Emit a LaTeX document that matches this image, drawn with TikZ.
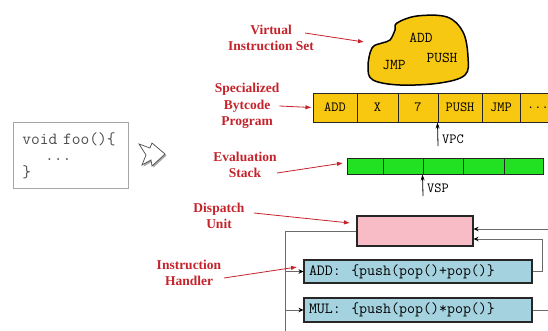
\documentclass[tikz,border=0pt]{standalone}
\usepackage{fontspec}
\setmainfont{Liberation Serif}
\usetikzlibrary{arrows.meta}
\definecolor{lblred}{HTML}{C4232B}
\definecolor{cloudyellow}{HTML}{F7C812}
\definecolor{byteyellow}{HTML}{F8C710}
\definecolor{stackgreen}{HTML}{22E022}
\definecolor{dupink}{HTML}{F8BCC6}
\definecolor{hblue}{HTML}{A5D2DF}
\definecolor{connGray}{HTML}{6A6A6A}
\tikzset{
  lbl/.style={text=lblred, font=\bfseries\fontsize{13.5}{16.5}\selectfont, align=center, inner sep=0pt},
  redarrow/.style={draw=lblred, line width=0.8pt, -{Latex[length=6pt,width=4.5pt]}},
  cellbox/.style={draw=black!85, line width=1pt, fill=byteyellow, minimum height=29pt, inner sep=0pt, font=\ttfamily\fontsize{14}{14}\selectfont},
  stackcell/.style={draw=black!85, line width=1pt, fill=stackgreen, minimum height=16pt, inner sep=0pt},
  mono/.style={font=\ttfamily\fontsize{14}{14}\selectfont, inner sep=0pt},
  cloudtxt/.style={font=\ttfamily\fontsize{15}{15}\selectfont, inner sep=0pt},
  ptr/.style={draw=black, line width=0.8pt, -{Stealth[length=6pt,width=4pt]}},
  handler/.style={draw=black!85, line width=1.1pt, fill=hblue, minimum width=228pt, text width=218pt, inner xsep=5pt, align=left, font=\ttfamily\fontsize{15.5}{15.5}\selectfont},
  conn/.style={draw=connGray, line width=0.9pt},
  conntip/.style={conn, -{Stealth[length=5pt,width=4.5pt,color=black]}}
}
\begin{document}
\begin{tikzpicture}[x=1pt,y=-1pt]
\useasboundingbox (0,0) rectangle (548,330);
\clip (0,0) rectangle (548,330);

% source code box
\node[draw=gray!70, line width=0.8pt, anchor=north west, minimum width=115pt, minimum height=66pt,
      text width=97pt, inner xsep=9pt, align=left, text=black!70,
      font=\ttfamily\fontsize{17}{16.5}\selectfont] (code) at (13,122)
  {void\ foo()\{\\\ \ \ \ ...\\\}};

% hollow zigzag arrow
\fill[gray!70] (140.5,145.5) -- (151.5,149.5) -- (153.5,144.5) -- (166.5,155.5) -- (153.5,167.5) -- (152.5,161.5) -- (143.5,166.5) -- (147.5,156.5) -- cycle;
\draw[gray!60!black, line width=0.7pt, fill=white] (139,144) -- (150,148) -- (152,143) -- (165,154) -- (152,166) -- (151,160) -- (142,165) -- (146,155) -- cycle;

% cloud: virtual instruction set
\draw[line width=1.5pt, fill=cloudyellow] plot[smooth cycle, tension=0.6] coordinates {
 (397,23) (417,16) (447,17) (463,32) (468,57) (465,75) (440,83) (400,85) (373,80) (368,67) (372,48) (382,43) (390,40) (395,30)};
\node[cloudtxt] (iadd) at (421,38) {ADD};
\node[cloudtxt] (ipush) at (442,58) {PUSH};
\node[cloudtxt] (ijmp) at (394,65) {JMP};
\coordinate (cloudin) at (364,42);

% bytecode program row
\node[cellbox, minimum width=44pt] (c1) at (335,107.5) {ADD};
\node[cellbox, minimum width=41pt] (c2) at (377.5,107.5) {X};
\node[cellbox, minimum width=40pt] (c3) at (418,107.5) {7};
\node[cellbox, minimum width=44pt] (c4) at (460,107.5) {PUSH};
\node[cellbox, minimum width=38pt] (c5) at (501,107.5) {JMP};
\node[cellbox, minimum width=36pt] (c6) at (538,107.5) {...};

% VPC
\coordinate (vpcb) at (438,146);
\draw[ptr] (vpcb) -- (c4.south west);
\node[mono, anchor=west] (vpc) at (442,139) {VPC};

% evaluation stack
\node[stackcell, minimum width=36pt] (s1) at (365,166) {};
\node[stackcell, minimum width=40pt] (s2) at (403,166) {};
\node[stackcell, minimum width=40pt] (s3) at (443,166) {};
\node[stackcell, minimum width=41pt] (s4) at (483.5,166) {};
\node[stackcell, minimum width=39pt] (s5) at (523.5,166) {};

% VSP
\coordinate (vspb) at (423,196);
\draw[ptr] (vspb) -- (s3.south west);
\node[mono, anchor=west] (vsp) at (427,188) {VSP};

% dispatch unit and handlers
\node[draw=black!85, line width=1.1pt, fill=dupink, minimum width=116pt, minimum height=30pt] (du) at (415,231) {};
\node[handler, minimum height=23pt] (hadd) at (418,271.5) {ADD:\ \ \{push(pop()+pop()\}};
\node[handler, minimum height=24pt] (hmul) at (418,310) {MUL:\ \ \{push(pop()*pop()\}};

% connectors
\coordinate (lbot) at (285,335);
\draw[conn] (du.west) -| (lbot);
\draw[conntip] (hadd.west -| lbot) -- (hadd.west);
\draw[conntip] (hmul.west -| lbot) -- (hmul.west);
\coordinate (rin) at (552,229);
\draw[conntip] (rin) -- ([yshift=2pt]du.east);
\draw[conntip] (hadd.east) -- ++(10,0) |- ([yshift=-8pt]du.east);
\coordinate (rout) at (552,310);
\draw[conn] (hmul.east) -- (rout);

% labels
\node[lbl] (vis) at (271,38) {Virtual\\Instruction Set};
\node[lbl] (sbp) at (247,106) {Specialized\\Bytcode\\Program};
\node[lbl] (evs) at (245,165) {Evaluation\\Stack};
\node[lbl] (dsu) at (219,216) {Dispatch\\Unit};
\node[lbl] (ih) at (189,273) {Instruction\\Handler};

\coordinate (visout) at (305,33);
\coordinate (evsout) at (277,173);
\coordinate (evsin) at (343,163);
\coordinate (dsuout) at (254,213);
\coordinate (dsuin) at (350,223);
\coordinate (ihout) at (224,278);
\coordinate (ihin) at (297,267);
\draw[redarrow] (visout) -- (cloudin);
\draw[redarrow] (sbp.east) -- ([xshift=-1pt]c1.west);
\draw[redarrow] (evsout) -- (evsin);
\draw[redarrow] (dsuout) -- (dsuin);
\draw[redarrow] (ihout) -- (ihin);
\end{tikzpicture}
\end{document}
